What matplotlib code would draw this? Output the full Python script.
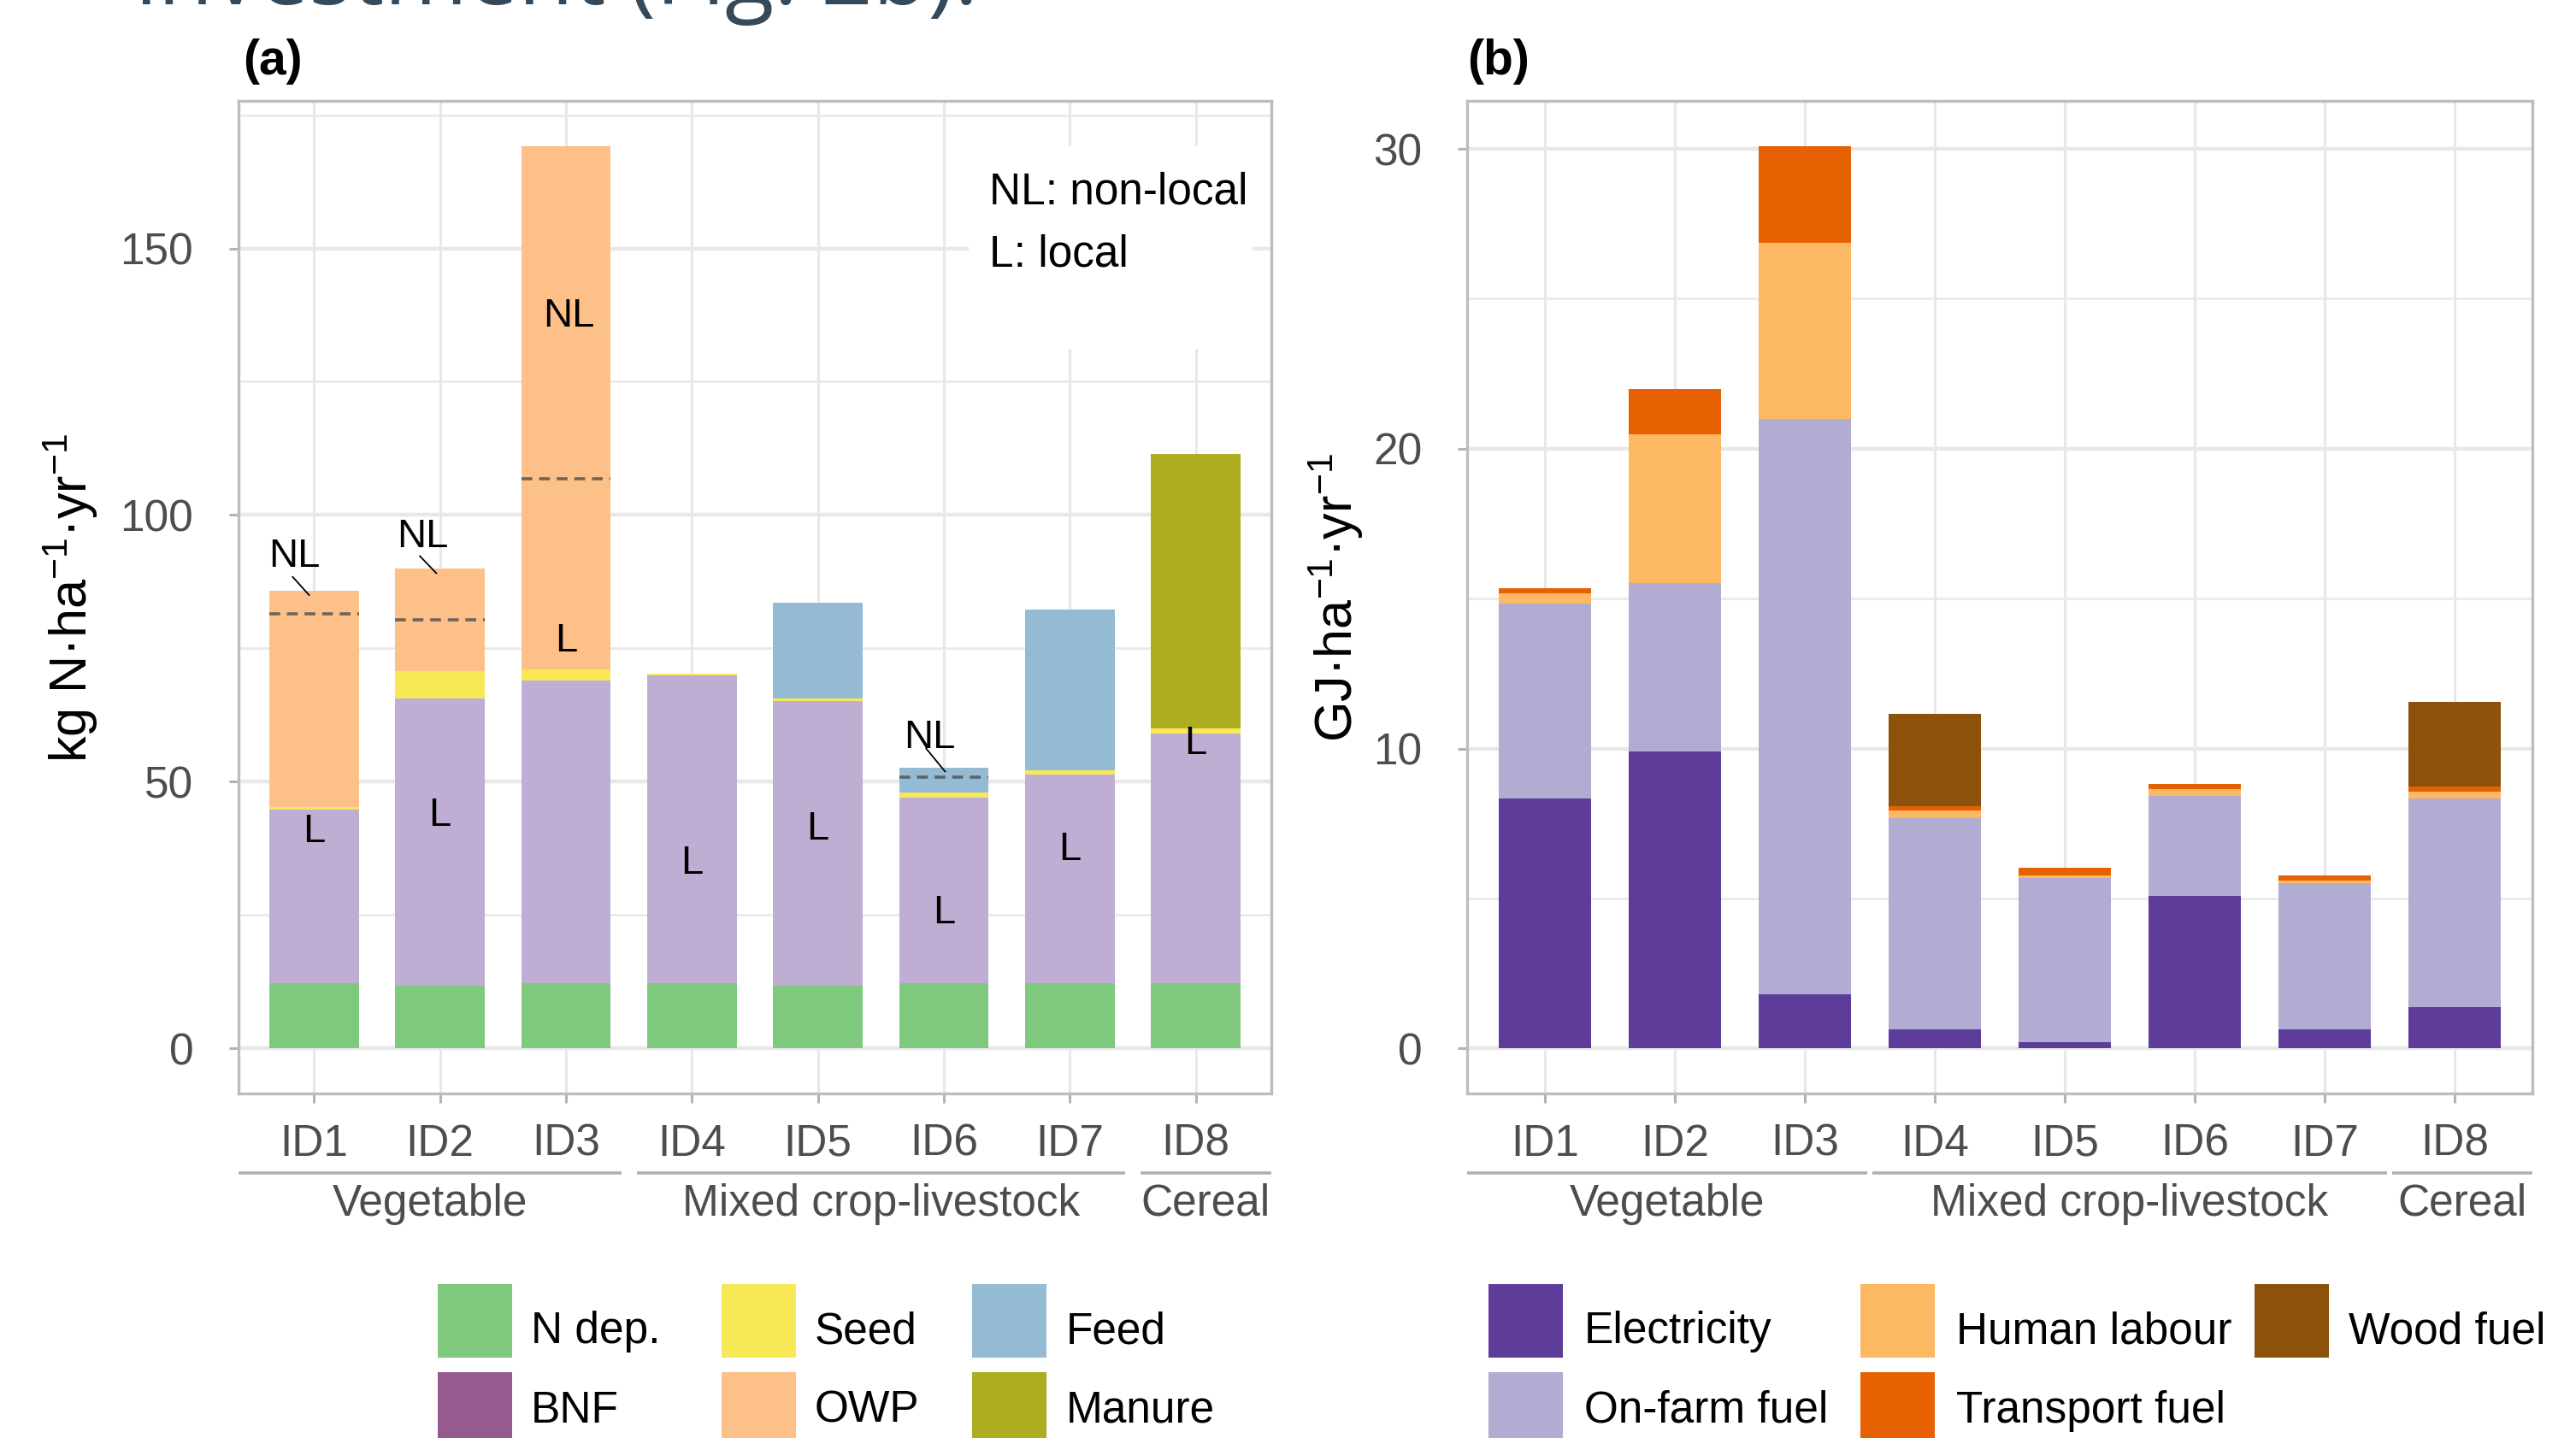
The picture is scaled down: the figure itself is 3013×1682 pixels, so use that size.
import numpy as np
import matplotlib
matplotlib.use("Agg")
import matplotlib.pyplot as plt
from matplotlib.patches import Rectangle
import matplotlib.transforms as mtransforms

plt.rcParams["font.family"] = ["Liberation Sans", "DejaVu Sans"]
plt.rcParams["mathtext.fontset"] = "custom"
plt.rcParams["mathtext.rm"] = "Liberation Sans"
plt.rcParams["mathtext.default"] = "regular"

# ---- data -------------------------------------------------------------
farms = ["ID1", "ID2", "ID3", "ID4", "ID5", "ID6", "ID7", "ID8"]
farm_types = ["Vegetable", "Mixed crop-livestock", "Cereal"]
type_span = [(1, 3), (4, 7), (8, 8)]

# (a) N inputs, kg N/ha/yr
n_dep = [12.2, 11.8, 12.2, 12.2, 11.8, 12.2, 12.2, 12.2]
bnf = [32.6, 53.8, 56.8, 57.7, 53.3, 34.8, 39.1, 46.9]
seed = [0.5, 5.1, 2.1, 0.3, 0.5, 0.9, 0.8, 0.9]
owp = [40.5, 19.3, 98.1, 0, 0, 0, 0, 0]
feed = [0, 0, 0, 0, 18.0, 4.7, 30.1, 0]
manure = [0, 0, 0, 0, 0, 0, 0, 51.5]
# split between local and non-local inputs (dashed lines)
nl_split_farm = [1, 2, 3, 6]
nl_split_value = [81.5, 80.3, 106.8, 50.9]

# (b) energy inputs, GJ/ha/yr
electricity = [8.32, 9.91, 1.79, 0.63, 0.20, 5.08, 0.63, 1.37]
onfarm_fuel = [6.51, 5.62, 19.21, 7.05, 5.48, 3.33, 4.87, 6.95]
human_labour = [0.34, 4.96, 5.88, 0.24, 0.09, 0.24, 0.09, 0.25]
transport_fuel = [0.18, 1.50, 3.22, 0.17, 0.25, 0.18, 0.18, 0.17]
wood_fuel = [0, 0, 0, 3.06, 0, 0, 0, 2.81]

n_series = [("N dep.", n_dep, "#7FC97F", "#7FC97F"),
            ("BNF", bnf, "#BEAED4", "#955A8E"),
            ("Seed", seed, "#F8E858", "#F8E858"),
            ("OWP", owp, "#FCC088", "#FCC088"),
            ("Feed", feed, "#94BAD4", "#94BAD4"),
            ("Manure", manure, "#ADAD21", "#ADAD21")]
e_series = [("Electricity", electricity, "#5E3C99"),
            ("On-farm fuel", onfarm_fuel, "#B2ABD2"),
            ("Human labour", human_labour, "#FDB863"),
            ("Transport fuel", transport_fuel, "#E66101"),
            ("Wood fuel", wood_fuel, "#8C510A")]

# text annotations in panel (a)
l_label_y = [40.6, 43.7, 76.3, 34.6, 41.1, 25.3, 37.2, 57.1]
nl_labels = [(0.84, 92.2, (0.83, 88.4), (0.96, 85.0)),
             (1.86, 95.9, (1.84, 92.3), (1.97, 89.1)),
             (3.02, 137.3, None, None),
             (5.89, 58.3, (5.86, 56.2), (6.01, 51.9))]

# ---- styling ----------------------------------------------------------
W, H = 3013, 1682
TICK_FS = 37
GRID = "#E8E8E8"
BORDER = "#BDBDBD"
TXT_GRAY = "#4D4D4D"
BAR_W = 0.71

fig = plt.figure(figsize=(W / 100, H / 100), dpi=100)


def px_axes(x0, x1, y0=118, y1=1279):
    return fig.add_axes([x0 / W, 1 - y1 / H, (x1 - x0) / W, (y1 - y0) / H])


def style_axes(ax, ylim, major, minor, gap):
    x = np.arange(1, len(farms) + 1)
    ax.set_xlim(0.4, 8.6)
    ax.set_ylim(*ylim)
    ax.set_xticks(x)
    ax.set_xticklabels(farms)
    ax.set_yticks(major)
    ax.set_yticks(minor, minor=True)
    ax.set_axisbelow(True)
    ax.grid(True, which="major", axis="y", color=GRID, lw=3.2)
    ax.grid(True, which="minor", axis="y", color=GRID, lw=1.8)
    ax.grid(True, which="major", axis="x", color=GRID, lw=2.2)
    for s in ax.spines.values():
        s.set_color(BORDER)
        s.set_linewidth(2.4)
    ax.tick_params(axis="both", which="major", colors="#B3B3B3", width=2.2,
                   length=8, labelsize=TICK_FS, labelcolor=TXT_GRAY)
    ax.tick_params(axis="y", pad=30)
    ax.tick_params(axis="x", pad=17)
    ax.tick_params(which="minor", length=0)

    # farm type brackets below the tick labels
    trans = mtransforms.blended_transform_factory(ax.transData, ax.transAxes)
    for name, (a, b) in zip(farm_types, type_span):
        lo = 0.4 if a == 1 else a - 0.5 + gap
        hi = 8.6 if b == 8 else b + 0.5 - gap
        ax.plot([lo, hi], [-0.0798, -0.0798], transform=trans, color="#B0B0B0",
                lw=2.6, clip_on=False, solid_capstyle="butt")
        ax.text((lo + hi) / 2, -0.1229, name, transform=trans, ha="center",
                va="baseline", fontsize=TICK_FS, color=TXT_GRAY)


x = np.arange(1, len(farms) + 1)

# ---- panel (a) --------------------------------------------------------
ax1 = px_axes(279, 1487)
bottom = np.zeros(len(farms))
for name, vals, col, _ in n_series:
    vals = np.array(vals, dtype=float)
    ax1.bar(x, vals, BAR_W, bottom=bottom, color=col, zorder=2, linewidth=0)
    bottom += vals
style_axes(ax1, (-8.46, 177.66), [0, 50, 100, 150], [25, 75, 125, 175], 0.06)

for f, v in zip(nl_split_farm, nl_split_value):
    ax1.plot([f - BAR_W / 2, f + BAR_W / 2], [v, v], color="#4D4D4D", alpha=0.8,
             lw=2.6, ls=(0, (3.5, 2.2)), zorder=3)

for xi, yi in zip(x, l_label_y):
    ax1.text(xi, yi, "L", ha="center", va="center", fontsize=34, zorder=4)
for lx, ly, p0, p1 in nl_labels:
    ax1.text(lx, ly, "NL", ha="center", va="center", fontsize=34, zorder=4)
    if p0 is not None:
        ax1.plot([p0[0], p1[0]], [p0[1], p1[1]], color="black", lw=1.3, zorder=4)

ax1.add_patch(Rectangle((6.198, 131.1), 2.256, 38.0, facecolor="white",
                        edgecolor="none", zorder=1.5))
ax1.text(6.36, 158.4, "NL: non-local", fontsize=37, va="baseline", zorder=4)
ax1.text(6.36, 146.7, "L: local", fontsize=37, va="baseline", zorder=4)

# ---- panel (b) --------------------------------------------------------
ax2 = px_axes(1716, 2962)
bottom = np.zeros(len(farms))
for name, vals, col in e_series:
    vals = np.array(vals, dtype=float)
    ax2.bar(x, vals, BAR_W, bottom=bottom, color=col, zorder=2, linewidth=0)
    bottom += vals
style_axes(ax2, (-1.505, 31.6), [0, 10, 20, 30], [5, 15, 25], 0.02)

# ---- axis titles, panel tags, cut-off slide title -------------------
fig.text(82.5 / W, 1 - 699 / H, "kg N·ha$^{-1}$·yr$^{-1}$", rotation=90,
         ha="center", va="center", fontsize=44)
fig.text(1563 / W, 1 - 699 / H, "GJ·ha$^{-1}$·yr$^{-1}$", rotation=90,
         ha="center", va="center", fontsize=44)
fig.text(284 / W, 1 - 72 / H, "(a)", fontsize=41, fontweight="bold", va="center")
fig.text(1716 / W, 1 - 72 / H, "(b)", fontsize=41, fontweight="bold", va="center")
fig.text(158 / W, 1 - 5 / H, "investment (Fig. 2b).", fontsize=76,
         family="Open Sans", color="#34495A", va="baseline")

# ---- legends (drawn by hand to match the layout) --------------------
def legend_block(entries, col_x, text_x):
    rows_top = [1502, 1605]
    baselines = [1571, 1664]
    for i, (label, col) in enumerate(entries):
        c, r = divmod(i, 2)
        fig.add_artist(Rectangle((col_x[c] / W, 1 - (rows_top[r] + 86) / H),
                                 87 / W, 86 / H, transform=fig.transFigure,
                                 facecolor=col, edgecolor="none"))
        fig.text(text_x[c] / W, 1 - baselines[r] / H, label, fontsize=37,
                 va="baseline")


legend_block([(s[0], s[3]) for s in n_series], [512, 844, 1137], [621, 953, 1247])
legend_block([(s[0], s[2]) for s in e_series], [1741, 2176, 2637], [1853, 2288, 2747])

fig.savefig("out.png", dpi=100)
